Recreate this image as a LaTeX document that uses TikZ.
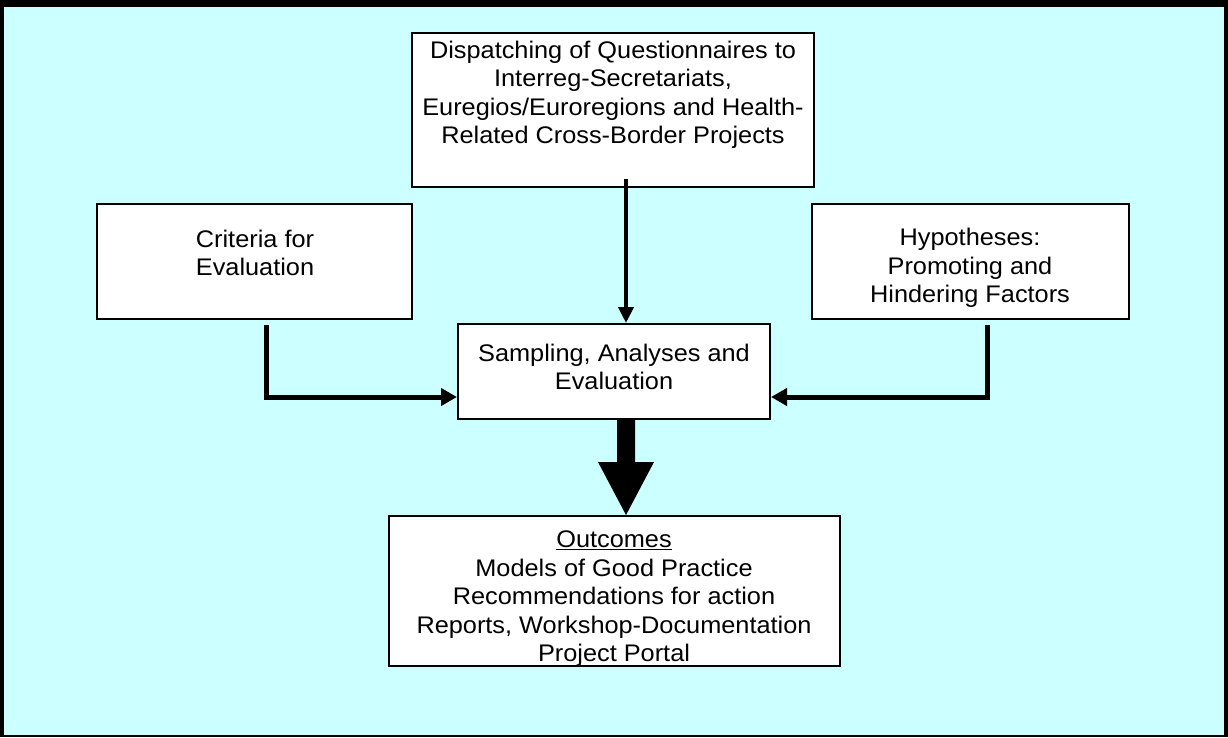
\documentclass[tikz,border=0pt]{standalone}
\usepackage{fontspec}
\setmainfont[FakeStretch=1.055]{Liberation Sans}
\usetikzlibrary{arrows.meta,calc}
\definecolor{panel}{HTML}{CCFFFF}
\begin{document}
\begin{tikzpicture}[x=1pt,y=-1pt,
  box/.style={draw=black, line width=2pt, fill=white, inner sep=0pt},
  txt/.style={align=center, inner sep=0pt, font=\fontsize{24}{28.5}\selectfont},
  thin arrow/.style={line width=4pt, -{Triangle[length=16pt,width=15pt]}},
  elbow/.style={line width=5pt, line join=miter, -{Triangle[length=16pt,width=17pt]}}]
\useasboundingbox (0,0) rectangle (1228,737);
% frame and panel
\fill[black] (0,0) rectangle (1228,737);
\fill[panel] (4,7) rectangle (1224,735);

% boxes
\node[box, minimum width=402pt, minimum height=154pt] (disp) at (613,110) {};
\node[box, minimum width=315pt, minimum height=115pt] (crit) at (254.5,261.5) {};
\node[box, minimum width=317pt, minimum height=115pt] (hyp) at (970.5,261.5) {};
\node[box, minimum width=312pt, minimum height=95pt] (samp) at (614,371.5) {};
\node[box, minimum width=451pt, minimum height=150pt] (outc) at (614.5,591) {};

% texts
\node[txt] (dispT) at (613,95) {Dispatching of Questionnaires to\\Interreg-Secretariats,\\Euregios/Euroregions and Health-\\Related Cross-Border Projects};
\node[txt] (critT) at (255,253) {Criteria for\\Evaluation};
\node[txt] (hypT) at (970,268) {Hypotheses:\\Promoting and\\Hindering Factors};
\node[txt] (sampT) at (614,367) {Sampling, Analyses and\\Evaluation};
\node[txt] (outcT) at (614,599) {\underline{Outcomes}\\Models of Good Practice\\Recommendations for action\\Reports, Workshop-Documentation\\Project Portal};

% connectors
\draw[thin arrow] ([xshift=13pt,yshift=9pt]disp.south) -- ([xshift=12pt]samp.north);
\draw[elbow] ([xshift=11.5pt,yshift=-5pt]crit.south) |- ([yshift=-25.5pt]samp.west);
\draw[elbow] ([xshift=16.5pt,yshift=-5pt]hyp.south) |- ([yshift=-25.5pt]samp.east);
\fill[black] ($(samp.south)+(3,0)$) -- ($(samp.south)+(21,0)$) -- ($(samp.south)+(21,42)$)
  -- ($(samp.south)+(40,42)$) -- ($(outc.north)+(11.5,0)$) -- ($(samp.south)+(-16,42)$)
  -- ($(samp.south)+(3,42)$) -- cycle;
\end{tikzpicture}
\end{document}
